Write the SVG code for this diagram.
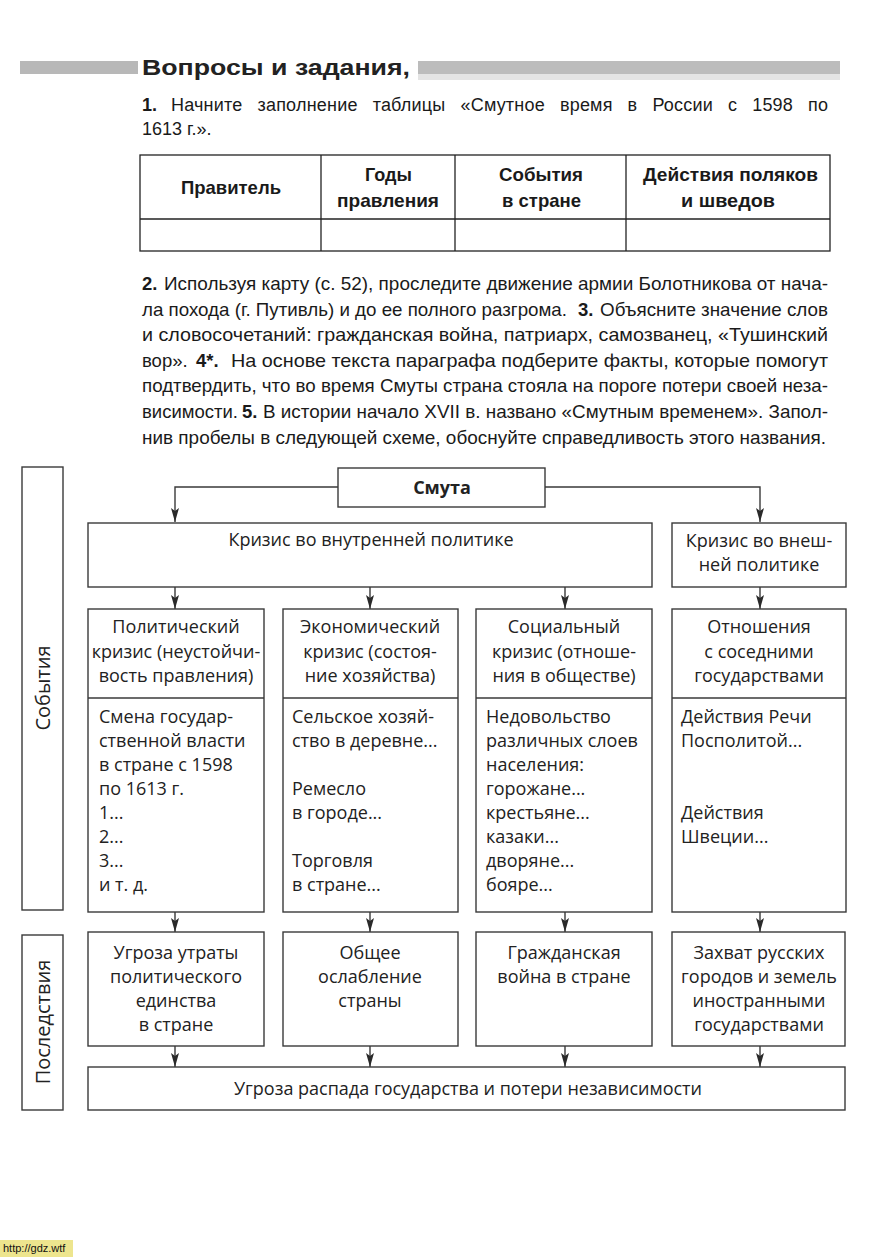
<svg xmlns="http://www.w3.org/2000/svg" width="875" height="1257" viewBox="0 0 875 1257">
<style>
.bg{fill:#fff}
.bx{fill:#fff;stroke:#3a3a3a;stroke-width:1.4}
.ln{fill:none;stroke:#3a3a3a;stroke-width:1.4}
.d{font-family:"Open Sans","Noto Sans",sans-serif;font-size:18px;fill:#222}
.dc{text-anchor:middle}
.b{font-weight:bold}
.v{font-family:"Open Sans","Noto Sans",sans-serif;font-size:20px;fill:#222;text-anchor:middle}
.p{font-family:"Liberation Sans",Arial,sans-serif;font-size:18.5px;fill:#1a1a1a}
.q{font-family:"Liberation Sans",Arial,sans-serif;font-size:18px;fill:#1a1a1a}
.th{font-family:"Liberation Sans",Arial,sans-serif;font-size:19px;font-weight:bold;fill:#1a1a1a}
.tb{fill:none;stroke:#222;stroke-width:1.3}
</style>
<defs>
<marker id="ar" viewBox="0 0 14 8" markerWidth="14" markerHeight="8" refX="14" refY="4" orient="auto" markerUnits="userSpaceOnUse">
<path d="M0,0 L14,4 L0,8 L3,4 Z" fill="#2a2a2a"/>
</marker>
</defs>
<rect class="bg" x="0" y="0" width="875" height="1257"/>

<g id="header">
<rect x="20" y="61" width="118" height="13" fill="#b8b8b8"/>
<rect x="418" y="61" width="422" height="13" fill="#bcbcbc"/>
<rect x="418" y="74" width="422" height="6" fill="#e4e4e4"/>
<text x="142" y="75" font-family="'Liberation Sans',Arial,sans-serif" font-size="22" font-weight="bold" fill="#222" textLength="268" lengthAdjust="spacingAndGlyphs">Вопросы и задания,</text>
</g>

<g id="task1">
<text class="q" x="142" y="111" font-family="'Liberation Serif',serif" font-weight="bold">1.</text>
<text class="q" x="171" y="111" word-spacing="9.8" textLength="657" lengthAdjust="spacing">Начните заполнение таблицы «Смутное время в России с 1598 по</text>
<text class="q" x="142" y="135">1613 г.».</text>
</g>

<g id="table">
<rect class="tb" x="140" y="155" width="690" height="96"/>
<line class="tb" x1="140" y1="219" x2="830" y2="219"/>
<line class="tb" x1="321" y1="155" x2="321" y2="251"/>
<line class="tb" x1="455" y1="155" x2="455" y2="251"/>
<line class="tb" x1="626" y1="155" x2="626" y2="251"/>
<text class="th" x="181" y="194" textLength="100" lengthAdjust="spacingAndGlyphs">Правитель</text>
<text class="th" x="365" y="181" textLength="47" lengthAdjust="spacingAndGlyphs">Годы</text>
<text class="th" x="337" y="207" textLength="102" lengthAdjust="spacingAndGlyphs">правления</text>
<text class="th" x="499" y="181" textLength="84" lengthAdjust="spacingAndGlyphs">События</text>
<text class="th" x="502" y="207" textLength="79" lengthAdjust="spacingAndGlyphs">в стране</text>
<text class="th" x="643" y="181" textLength="175" lengthAdjust="spacingAndGlyphs">Действия поляков</text>
<text class="th" x="681" y="207" textLength="94" lengthAdjust="spacingAndGlyphs">и шведов</text>
</g>

<g id="tasks">
<text class="p b" x="142" y="290">2.</text>
<text class="p" x="164" y="290" textLength="664" lengthAdjust="spacingAndGlyphs">Используя карту (с. 52), проследите движение армии Болотникова от нача-</text>
<text class="p" x="142" y="316" textLength="425" lengthAdjust="spacingAndGlyphs">ла похода (г. Путивль) и до ее полного разгрома.</text>
<text class="p b" x="578" y="316">3.</text>
<text class="p" x="600" y="316" textLength="228" lengthAdjust="spacingAndGlyphs">Объясните значение слов</text>
<text class="p" x="142" y="341" textLength="686" lengthAdjust="spacingAndGlyphs">и словосочетаний: гражданская война, патриарх, самозванец, «Тушинский</text>
<text class="p" x="142" y="367">вор».</text>
<text class="p b" x="196" y="367">4*.</text>
<text class="p" x="231" y="367" textLength="597" lengthAdjust="spacingAndGlyphs">На основе текста параграфа подберите факты, которые помогут</text>
<text class="p" x="142" y="392" textLength="686" lengthAdjust="spacingAndGlyphs">подтвердить, что во время Смуты страна стояла на пороге потери своей неза-</text>
<text class="p" x="142" y="418">висимости.</text>
<text class="p b" x="242" y="418">5.</text>
<text class="p" x="263" y="418" textLength="565" lengthAdjust="spacingAndGlyphs">В истории начало XVII в. названо «Смутным временем». Запол-</text>
<text class="p" x="142" y="444" textLength="684" lengthAdjust="spacingAndGlyphs">нив пробелы в следующей схеме, обоснуйте справедливость этого названия.</text>
</g>

<g id="connectors">
<path class="ln" d="M338,487 H175 V522" marker-end="url(#ar)"/>
<path class="ln" d="M545,487 H760 V522" marker-end="url(#ar)"/>
<line class="ln" x1="175" y1="587" x2="175" y2="609" marker-end="url(#ar)"/>
<line class="ln" x1="370" y1="587" x2="370" y2="609" marker-end="url(#ar)"/>
<line class="ln" x1="565" y1="587" x2="565" y2="609" marker-end="url(#ar)"/>
<line class="ln" x1="760" y1="587" x2="760" y2="609" marker-end="url(#ar)"/>
<line class="ln" x1="175" y1="912" x2="175" y2="932" marker-end="url(#ar)"/>
<line class="ln" x1="370" y1="912" x2="370" y2="932" marker-end="url(#ar)"/>
<line class="ln" x1="565" y1="912" x2="565" y2="932" marker-end="url(#ar)"/>
<line class="ln" x1="760" y1="912" x2="760" y2="932" marker-end="url(#ar)"/>
<line class="ln" x1="175" y1="1046" x2="175" y2="1067" marker-end="url(#ar)"/>
<line class="ln" x1="370" y1="1046" x2="370" y2="1067" marker-end="url(#ar)"/>
<line class="ln" x1="565" y1="1046" x2="565" y2="1067" marker-end="url(#ar)"/>
<line class="ln" x1="760" y1="1046" x2="760" y2="1067" marker-end="url(#ar)"/>
</g>

<g id="label-events">
<rect class="bx" x="22" y="467" width="41" height="443"/>
<text class="v" transform="translate(50,688) rotate(-90)">События</text>
</g>
<g id="label-consequences">
<rect class="bx" x="22" y="935" width="41" height="175"/>
<text class="v" transform="translate(50,1022) rotate(-90)">Последствия</text>
</g>

<g id="smuta">
<rect class="bx" x="338" y="468" width="207" height="39"/>
<text class="d dc b" x="442" y="494">Смута</text>
</g>

<g id="internal">
<rect class="bx" x="88" y="523" width="564" height="64"/>
<text class="d dc" x="371" y="546">Кризис во внутренней политике</text>
</g>

<g id="external">
<rect class="bx" x="672" y="523" width="174" height="64"/>
<text class="d dc" x="759" y="547">Кризис во внеш-</text>
<text class="d dc" x="759" y="571">ней политике</text>
</g>

<g id="political">
<rect class="bx" x="88" y="609" width="176" height="303"/>
<line class="ln" x1="88" y1="698" x2="264" y2="698"/>
<text class="d dc" x="176" y="633">Политический</text>
<text class="d dc" x="176" y="658">кризис (неустойчи-</text>
<text class="d dc" x="176" y="682">вость правления)</text>
<text class="d" x="99" y="723">Смена государ-</text>
<text class="d" x="99" y="747">ственной власти</text>
<text class="d" x="99" y="771">в стране с 1598</text>
<text class="d" x="99" y="795">по 1613 г.</text>
<text class="d" x="99" y="819">1...</text>
<text class="d" x="99" y="843">2...</text>
<text class="d" x="99" y="867">3...</text>
<text class="d" x="99" y="891">и т. д.</text>
</g>

<g id="economic">
<rect class="bx" x="283" y="609" width="175" height="303"/>
<line class="ln" x1="283" y1="698" x2="458" y2="698"/>
<text class="d dc" x="370" y="633">Экономический</text>
<text class="d dc" x="370" y="658">кризис (состоя-</text>
<text class="d dc" x="370" y="682">ние хозяйства)</text>
<text class="d" x="292" y="723">Сельское хозяй-</text>
<text class="d" x="292" y="747">ство в деревне...</text>
<text class="d" x="292" y="795">Ремесло</text>
<text class="d" x="292" y="819">в городе...</text>
<text class="d" x="292" y="867">Торговля</text>
<text class="d" x="292" y="891">в стране...</text>
</g>

<g id="social">
<rect class="bx" x="476" y="609" width="176" height="303"/>
<line class="ln" x1="476" y1="698" x2="652" y2="698"/>
<text class="d dc" x="564" y="633">Социальный</text>
<text class="d dc" x="564" y="658">кризис (отноше-</text>
<text class="d dc" x="564" y="682">ния в обществе)</text>
<text class="d" x="486" y="723">Недовольство</text>
<text class="d" x="486" y="747">различных слоев</text>
<text class="d" x="486" y="771">населения:</text>
<text class="d" x="486" y="795">горожане...</text>
<text class="d" x="486" y="819">крестьяне...</text>
<text class="d" x="486" y="843">казаки...</text>
<text class="d" x="486" y="867">дворяне...</text>
<text class="d" x="486" y="891">бояре...</text>
</g>

<g id="foreign">
<rect class="bx" x="672" y="609" width="174" height="303"/>
<line class="ln" x1="672" y1="698" x2="846" y2="698"/>
<text class="d dc" x="759" y="633">Отношения</text>
<text class="d dc" x="759" y="658">с соседними</text>
<text class="d dc" x="759" y="682">государствами</text>
<text class="d" x="681" y="723">Действия Речи</text>
<text class="d" x="681" y="747">Посполитой...</text>
<text class="d" x="681" y="819">Действия</text>
<text class="d" x="681" y="843">Швеции...</text>
</g>

<g id="cons-political">
<rect class="bx" x="88" y="932" width="176" height="114"/>
<text class="d dc" x="176" y="959">Угроза утраты</text>
<text class="d dc" x="176" y="983">политического</text>
<text class="d dc" x="176" y="1007">единства</text>
<text class="d dc" x="176" y="1031">в стране</text>
</g>
<g id="cons-economic">
<rect class="bx" x="283" y="932" width="175" height="114"/>
<text class="d dc" x="370" y="959">Общее</text>
<text class="d dc" x="370" y="983">ослабление</text>
<text class="d dc" x="370" y="1007">страны</text>
</g>
<g id="cons-social">
<rect class="bx" x="476" y="932" width="176" height="114"/>
<text class="d dc" x="564" y="959">Гражданская</text>
<text class="d dc" x="564" y="983">война в стране</text>
</g>
<g id="cons-foreign">
<rect class="bx" x="672" y="932" width="173" height="114"/>
<text class="d dc" x="759" y="959">Захват русских</text>
<text class="d dc" x="759" y="983">городов и земель</text>
<text class="d dc" x="759" y="1007">иностранными</text>
<text class="d dc" x="759" y="1031">государствами</text>
</g>

<g id="result">
<rect class="bx" x="88" y="1067" width="757" height="43"/>
<text class="d dc" x="468" y="1095">Угроза распада государства и потери независимости</text>
</g>

<g id="footer">
<rect x="0" y="1240" width="73" height="17" fill="#ede58e"/>
<text x="3" y="1252" font-family="'Liberation Sans',Arial,sans-serif" font-size="11" fill="#111">http://gdz.wtf</text>
</g>
</svg>
